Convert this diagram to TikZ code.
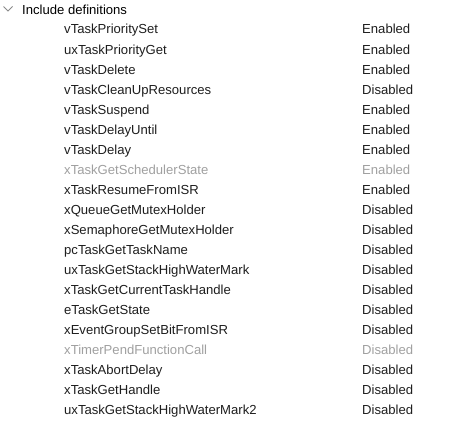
\documentclass[tikz,border=0pt]{standalone}
\usepackage{fontspec}
\setmainfont{Liberation Sans}
\definecolor{txt}{HTML}{1E1E1E}
\definecolor{dim}{HTML}{A0A0A0}
\definecolor{chev}{HTML}{8A8A8A}
\begin{document}
\begin{tikzpicture}[x=1pt,y=-1pt,
  every node/.style={inner sep=0pt,anchor=base west,font=\fontsize{13.1}{14}\selectfont},
  itemtxt/.style={text=txt},
  itemtxtdim/.style={text=dim}]
\useasboundingbox[fill=white] (0,0) rectangle (461,423);
\draw[chev,line width=0.8pt] (3.5,6.5) -- (8,11) -- (12.5,6.5);
\node[text=black] (hdr) at (22,14) {Include definitions};
\foreach \n/\v/\s [count=\i from 0] in {
  vTaskPrioritySet/Enabled/,
  uxTaskPriorityGet/Enabled/,
  vTaskDelete/Enabled/,
  vTaskCleanUpResources/Disabled/,
  vTaskSuspend/Enabled/,
  vTaskDelayUntil/Enabled/,
  vTaskDelay/Enabled/,
  xTaskGetSchedulerState/Enabled/dim,
  xTaskResumeFromISR/Enabled/,
  xQueueGetMutexHolder/Disabled/,
  xSemaphoreGetMutexHolder/Disabled/,
  pcTaskGetTaskName/Disabled/,
  uxTaskGetStackHighWaterMark/Disabled/,
  xTaskGetCurrentTaskHandle/Disabled/,
  eTaskGetState/Disabled/,
  xEventGroupSetBitFromISR/Disabled/,
  xTimerPendFunctionCall/Disabled/dim,
  xTaskAbortDelay/Disabled/,
  xTaskGetHandle/Disabled/,
  uxTaskGetStackHighWaterMark2/Disabled/}{
  \node[itemtxt\s] (n\i) at (64,34+20*\i) {\n};
  \node[itemtxt\s] (v\i) at (362,34+20*\i) {\v};
}
\end{tikzpicture}
\end{document}
